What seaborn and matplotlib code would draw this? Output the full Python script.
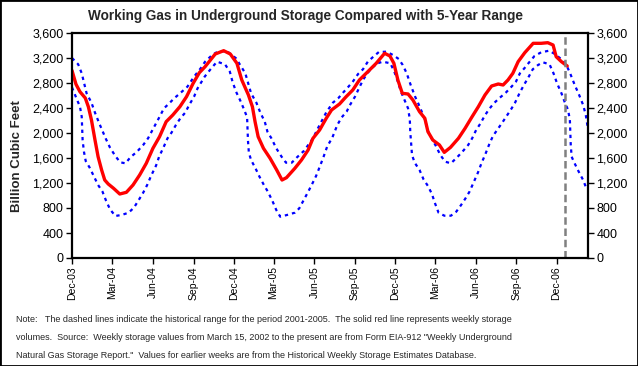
import matplotlib
matplotlib.use("Agg")
import matplotlib.pyplot as plt
import matplotlib.dates as mdates
from matplotlib.patches import Rectangle
from matplotlib.ticker import FuncFormatter
import seaborn as sns
import pandas as pd

# ---------------- data ----------------
red_dates = ["2003-12-01", "2003-12-10", "2003-12-19", "2003-12-31", "2004-01-07", "2004-01-14",
             "2004-01-22", "2004-01-29", "2004-02-06", "2004-02-13", "2004-02-21", "2004-03-04",
             "2004-03-18", "2004-04-02", "2004-04-17", "2004-05-02", "2004-05-17", "2004-06-01",
             "2004-06-16", "2004-07-01", "2004-07-16", "2004-08-01", "2004-08-16", "2004-08-31",
             "2004-09-14", "2004-09-27", "2004-10-20", "2004-11-08", "2004-11-23", "2004-12-08",
             "2004-12-19", "2005-01-03", "2005-01-12", "2005-01-18", "2005-01-25", "2005-02-06",
             "2005-02-21", "2005-03-08", "2005-03-20", "2005-03-30", "2005-04-18", "2005-05-03",
             "2005-05-18", "2005-05-29", "2005-06-13", "2005-06-28", "2005-07-10", "2005-07-28",
             "2005-08-12", "2005-08-27", "2005-09-11", "2005-09-30", "2005-10-19", "2005-11-07",
             "2005-11-19", "2005-11-28", "2005-12-07", "2005-12-17", "2005-12-30", "2006-01-10",
             "2006-01-25", "2006-02-06", "2006-02-13", "2006-02-24", "2006-03-11", "2006-03-22",
             "2006-04-05", "2006-04-23", "2006-05-08", "2006-05-23", "2006-06-07", "2006-06-22",
             "2006-07-07", "2006-07-22", "2006-08-02", "2006-08-13", "2006-08-24", "2006-09-05",
             "2006-09-20", "2006-10-09", "2006-10-27", "2006-11-11", "2006-11-23", "2006-11-30",
             "2006-12-12", "2006-12-25"]
red_values = [3000, 2780, 2660, 2560, 2420, 2208,
              1888, 1621, 1408, 1248, 1184, 1115,
              1024, 1051, 1168, 1328, 1515, 1755,
              1941, 2181, 2288, 2421, 2581, 2795,
              2965, 3061, 3264, 3317, 3264, 3115,
              2848, 2608, 2421, 2181, 1941, 1755,
              1595, 1408, 1248, 1285, 1435, 1568,
              1728, 1915, 2048, 2235, 2368, 2464,
              2581, 2688, 2848, 2981, 3115, 3275,
              3232, 3115, 2848, 2635, 2624, 2528,
              2341, 2235, 2021, 1888, 1808, 1690,
              1770, 1915, 2075, 2251, 2421, 2608,
              2752, 2784, 2768, 2848, 2955, 3141,
              3285, 3435, 3435, 3445, 3408, 3221,
              3141, 3072]

max_dates = ["2003-12-01", "2003-12-15", "2003-12-23", "2004-01-03", "2004-01-14", "2004-01-22",
             "2004-01-31", "2004-02-08", "2004-02-15", "2004-02-25", "2004-03-08", "2004-03-19",
             "2004-03-31", "2004-04-11", "2004-04-26", "2004-05-10", "2004-05-21", "2004-05-31",
             "2004-06-17", "2004-06-26", "2004-07-08", "2004-07-19", "2004-08-03", "2004-08-18",
             "2004-09-02", "2004-09-17", "2004-09-27", "2004-10-13", "2004-10-28", "2004-11-17",
             "2004-12-06", "2004-12-27", "2005-01-09", "2005-01-21", "2005-01-30", "2005-02-09",
             "2005-02-15", "2005-02-24", "2005-03-07", "2005-03-19", "2005-03-29", "2005-04-11",
             "2005-04-22", "2005-05-09", "2005-05-29", "2005-06-08", "2005-06-28", "2005-07-13",
             "2005-07-25", "2005-08-05", "2005-08-16", "2005-08-27", "2005-09-08", "2005-09-19",
             "2005-09-30", "2005-10-11", "2005-10-25", "2005-11-11", "2005-11-26", "2005-12-09",
             "2005-12-18", "2005-12-27", "2006-01-05", "2006-01-15", "2006-01-22", "2006-01-30",
             "2006-02-07", "2006-02-12", "2006-02-20", "2006-03-03", "2006-03-13", "2006-03-24",
             "2006-04-06", "2006-04-20", "2006-05-02", "2006-05-15", "2006-05-24", "2006-06-02",
             "2006-06-12", "2006-06-21", "2006-07-01", "2006-07-12", "2006-07-24", "2006-08-08",
             "2006-08-21", "2006-08-31", "2006-09-09", "2006-09-19", "2006-09-30", "2006-10-12",
             "2006-10-27", "2006-11-14", "2006-11-27", "2006-12-12", "2006-12-23", "2006-12-31",
             "2007-01-11", "2007-01-21", "2007-01-30", "2007-02-05", "2007-02-10"]
max_values = [3200, 3099, 2955, 2635, 2485, 2325,
              2165, 2032, 1915, 1765, 1632, 1531,
              1515, 1611, 1701, 1808, 1915, 2048,
              2272, 2395, 2475, 2555, 2645, 2741,
              2901, 3035, 3141, 3248, 3312, 3301,
              3195, 2955, 2635, 2485, 2325, 2181,
              2021, 1915, 1755, 1621, 1525, 1525,
              1605, 1717, 1915, 2059, 2330, 2485,
              2555, 2645, 2731, 2821, 2944, 3019,
              3141, 3211, 3296, 3301, 3248, 3184,
              3088, 2955, 2768, 2581, 2475, 2341,
              2197, 2048, 1931, 1792, 1648, 1541,
              1515, 1611, 1701, 1808, 1915, 2048,
              2155, 2272, 2379, 2475, 2555, 2645,
              2741, 2821, 2955, 3035, 3131, 3232,
              3291, 3317, 3264, 3179, 3088, 2965,
              2768, 2608, 2448, 2288, 2060]

min_dates = ["2003-12-01", "2003-12-11", "2003-12-19", "2003-12-23", "2003-12-24", "2003-12-25",
             "2003-12-28", "2004-01-01", "2004-01-10", "2004-01-20", "2004-01-29", "2004-02-08",
             "2004-02-16", "2004-02-25", "2004-03-08", "2004-03-23", "2004-04-07", "2004-04-19",
             "2004-04-29", "2004-05-10", "2004-05-19", "2004-05-28", "2004-06-08", "2004-06-15",
             "2004-06-25", "2004-07-04", "2004-07-13", "2004-07-23", "2004-08-02", "2004-08-13",
             "2004-08-22", "2004-09-02", "2004-09-10", "2004-09-26", "2004-10-11", "2004-10-24",
             "2004-11-11", "2004-11-22", "2004-11-28", "2004-12-06", "2004-12-15", "2004-12-24",
             "2004-12-31", "2005-01-01", "2005-01-02", "2005-01-04", "2005-01-09", "2005-01-19",
             "2005-01-28", "2005-02-07", "2005-02-16", "2005-02-26", "2005-03-07", "2005-03-16",
             "2005-03-31", "2005-04-18", "2005-04-28", "2005-05-07", "2005-05-17", "2005-05-26",
             "2005-06-05", "2005-06-14", "2005-06-22", "2005-06-30", "2005-07-12", "2005-07-23",
             "2005-08-02", "2005-08-13", "2005-08-22", "2005-09-01", "2005-09-11", "2005-09-20",
             "2005-09-30", "2005-10-11", "2005-10-22", "2005-11-03", "2005-11-20", "2005-11-29",
             "2005-12-07", "2005-12-14", "2005-12-22", "2005-12-30", "2006-01-03", "2006-01-04",
             "2006-01-06", "2006-01-08", "2006-01-14", "2006-01-25", "2006-02-03", "2006-02-13",
             "2006-02-22", "2006-03-01", "2006-03-09", "2006-03-22", "2006-04-06", "2006-04-18",
             "2006-04-29", "2006-05-09", "2006-05-18", "2006-05-27", "2006-06-06", "2006-06-14",
             "2006-06-23", "2006-07-01", "2006-07-10", "2006-07-21", "2006-07-31", "2006-08-09",
             "2006-08-20", "2006-08-29", "2006-09-08", "2006-09-18", "2006-09-27", "2006-10-08",
             "2006-10-20", "2006-10-31", "2006-11-15", "2006-11-24", "2006-12-02", "2006-12-12",
             "2006-12-19", "2006-12-27", "2006-12-31", "2007-01-01", "2007-01-02", "2007-01-04",
             "2007-01-10", "2007-01-20", "2007-01-30", "2007-02-06", "2007-02-10"]
min_values = [2730, 2555, 2421, 2261, 2075, 1888,
              1701, 1552, 1445, 1301, 1168, 1061,
              917, 779, 672, 690, 725, 805,
              917, 1045, 1168, 1317, 1477, 1621,
              1771, 1915, 2005, 2128, 2235, 2325,
              2448, 2581, 2715, 2901, 3035, 3141,
              3099, 2981, 2821, 2661, 2528, 2379,
              2251, 2059, 1877, 1685, 1568, 1435,
              1301, 1168, 1061, 917, 768, 661,
              688, 725, 795, 912, 1045, 1168,
              1312, 1472, 1621, 1781, 1931, 2128,
              2251, 2341, 2464, 2581, 2731, 2859,
              2965, 3051, 3115, 3141, 3115, 2981,
              2821, 2661, 2528, 2395, 2219, 2021,
              1835, 1648, 1525, 1408, 1259, 1152,
              1024, 875, 725, 677, 677, 741,
              848, 955, 1061, 1205, 1365, 1515,
              1664, 1808, 1952, 2064, 2165, 2261,
              2379, 2485, 2635, 2768, 2875, 3019,
              3088, 3131, 3099, 2955, 2795, 2635,
              2501, 2368, 2208, 1995, 1808, 1621,
              1525, 1381, 1248, 1120, 1100]

current_week = "2006-12-21"
x_start, x_end = "2003-12-01", "2007-02-10"
tick_dates = ["2003-12-01", "2004-03-01", "2004-06-01", "2004-09-01", "2004-12-01",
              "2005-03-01", "2005-06-01", "2005-09-01", "2005-12-01", "2006-03-01",
              "2006-06-01", "2006-09-01", "2006-12-01"]
y_ticks = [0, 400, 800, 1200, 1600, 2000, 2400, 2800, 3200, 3600]

title = "Working Gas in Underground Storage Compared with 5-Year Range"
y_label = "Billion Cubic Feet"
note_lines = [
    "Note:   The dashed lines indicate the historical range for the period 2001-2005.  The solid red line represents weekly storage",
    "volumes.  Source:  Weekly storage values from March 15, 2002 to the present are from Form EIA-912 \"Weekly Underground",
    "Natural Gas Storage Report.\"  Values for earlier weeks are from the Historical Weekly Storage Estimates Database.",
]

# ---------------- plotting ----------------
sns.set_style("white")
plt.rcParams["font.family"] = ["Liberation Sans", "DejaVu Sans"]

df_red = pd.DataFrame({"date": pd.to_datetime(red_dates), "value": red_values})
df_max = pd.DataFrame({"date": pd.to_datetime(max_dates), "value": max_values})
df_min = pd.DataFrame({"date": pd.to_datetime(min_dates), "value": min_values})

fig = plt.figure(figsize=(6.38, 3.66), dpi=100)
ax = fig.add_axes([72 / 638, 1 - 258 / 366, (588 - 72) / 638, (258 - 33) / 366])

sns.lineplot(data=df_max, x="date", y="value", ax=ax, color="#0000FF",
             linewidth=1.6, linestyle=(0, (1.5, 1.8)))
sns.lineplot(data=df_min, x="date", y="value", ax=ax, color="#0000FF",
             linewidth=1.6, linestyle=(0, (1.5, 1.8)))
sns.lineplot(data=df_red, x="date", y="value", ax=ax, color="#FF0000",
             linewidth=2.4)
ax.axvline(pd.Timestamp(current_week), color="#808080", linewidth=1.8,
           linestyle=(0, (3, 1.5)))

ax.set_xlim(pd.Timestamp(x_start), pd.Timestamp(x_end))
ax.set_ylim(0, 3600)
ax.set_yticks(y_ticks)
ax.yaxis.set_major_formatter(FuncFormatter(lambda v, p: f"{int(v):,}"))
ax.set_xticks(pd.to_datetime(tick_dates))
ax.xaxis.set_major_formatter(mdates.DateFormatter("%b-%y"))
ax.set_xlabel("")
ax.set_ylabel("")

for s in ax.spines.values():
    s.set_color("black")
    s.set_linewidth(1.6)
    s.set_visible(True)

ax.tick_params(axis="y", which="both", direction="out", length=4, width=1,
               left=True, right=True, labelleft=True, labelright=True,
               labelsize=9, pad=2, colors="black")
ax.tick_params(axis="x", direction="out", length=4, width=1, bottom=True,
               labelsize=7.5, rotation=90, pad=2, colors="black")

fig.text(306 / 638, 1 - 16 / 366, title, ha="center", va="center",
         fontsize=9.8, fontweight="bold")
fig.text(17 / 638, 1 - 156 / 366, y_label, ha="center", va="center",
         rotation=90, fontsize=9.5, fontweight="bold")

for i, line in enumerate(note_lines):
    fig.text(16 / 638, 1 - (319 + 18 * i) / 366, line, ha="left", va="center",
             fontsize=6.5)

fig.patches.append(Rectangle((0, 0), 1, 1, transform=fig.transFigure, fill=False,
                             edgecolor="black", linewidth=2, zorder=10))

fig.savefig("out.png", dpi=100, facecolor="white")
